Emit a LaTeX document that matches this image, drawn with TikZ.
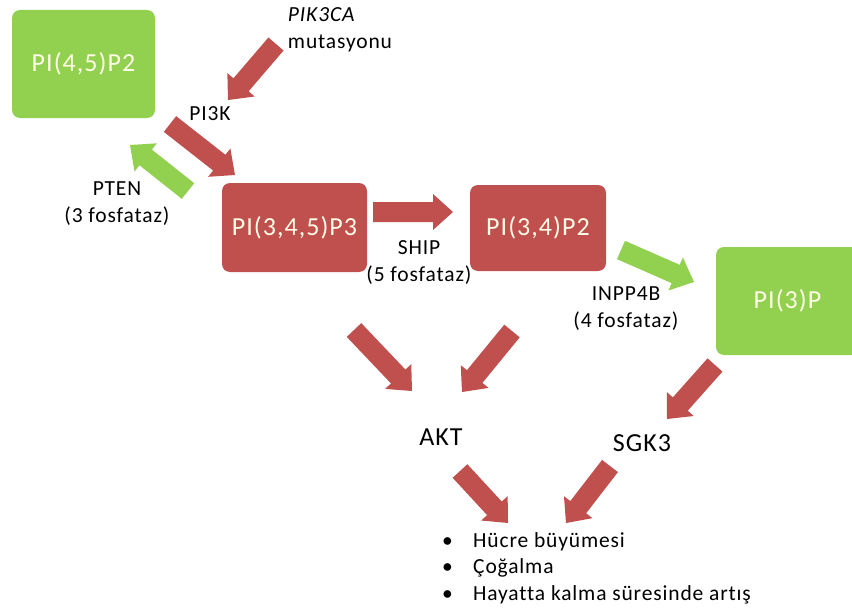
\documentclass[tikz,border=0pt]{standalone}
\usepackage{fontspec}
\setmainfont{Carlito}[LetterSpace=4, Ligatures=NoCommon]
\usetikzlibrary{calc}

\definecolor{pired}{RGB}{192,80,77}
\definecolor{pigreen}{RGB}{146,208,80}
\definecolor{boxtext}{RGB}{255,253,232}

% block arrow: tail, tip, colour
\newcommand{\blockarrow}[3]{%
  \coordinate (head) at ($(#2)!20pt!(#1)$);
  \fill[#3] ($(#1)!10pt!90:(#2)$) -- ($(head)!10pt!90:(#2)$) -- ($(head)!18pt!90:(#2)$)
    -- (#2) -- ($(head)!18pt!-90:(#2)$) -- ($(head)!10pt!-90:(#2)$) -- ($(#1)!10pt!-90:(#2)$) -- cycle;
}

\begin{document}
\begin{tikzpicture}[
    x=1pt, y=-1pt,
    box/.style={rectangle, rounded corners=8pt, text=boxtext, font=\fontsize{26}{30}\selectfont},
    greenbox/.style={box, fill=pigreen, minimum width=143pt, minimum height=108pt},
    redbox/.style={box, fill=pired},
    lbl/.style={font=\fontsize{21.5}{27}\selectfont, align=center, inner sep=0pt},
    big/.style={font=\fontsize{26}{30}\selectfont, inner sep=0pt},
    item/.style={font=\fontsize{21.5}{26}\selectfont, anchor=base west, inner sep=0pt}
]
    \clip (0,0) rectangle (852,610);

    % Boxes
    \node[greenbox] (pip2) at (83.5,64) {PI(4,5)P2};
    \node[redbox, minimum width=145pt, minimum height=89pt] (pip3) at (294.5,227.5) {PI(3,4,5)P3};
    \node[redbox, minimum width=136pt, minimum height=86pt] (pi34p2) at (538,228) {PI(3,4)P2};
    \node[greenbox] (pi3p) at (787.5,301) {PI(3)P};

    % Labels
    \node[lbl, align=left] (pik3ca) at (340,30) {\textit{PIK3CA}\\mutasyonu};
    \node[lbl] (pi3k) at (210,114) {PI3K};
    \node[lbl] (pten) at (117,204) {PTEN\\(3 fosfataz)};
    \node[lbl] (ship) at (419,263) {SHIP\\(5 fosfataz)};
    \node[lbl] (inpp4b) at (626,309) {INPP4B\\(4 fosfataz)};
    \node[big] (akt) at (441,437) {AKT};
    \node[big] (sgk3) at (642,443) {SGK3};

    % Outcomes
    \node[item] (item1) at (442,547) {\makebox[31pt][l]{\textbullet}Hücre büyümesi};
    \node[item] (item2) at (442,573) {\makebox[31pt][l]{\textbullet}Çoğalma};
    \node[item] (item3) at (442,600) {\makebox[31pt][l]{\textbullet}Hayatta kalma süresinde artış};

    % Arrow ends
    \coordinate (mut-t) at (276,44);   \coordinate (mut-h) at (228,100);
    \coordinate (pi3k-t) at (170,124); \coordinate (pi3k-h) at (235,175);
    \coordinate (pten-t) at (188,191); \coordinate (pten-h) at (130,145);
    \coordinate (ship-t) at (373,212); \coordinate (ship-h) at (453,212);
    \coordinate (inpp-t) at (621,250); \coordinate (inpp-h) at (694,282);
    \coordinate (akt1-t) at (354,330); \coordinate (akt1-h) at (412,391);
    \coordinate (akt2-t) at (512,331); \coordinate (akt2-h) at (462,392);
    \coordinate (sgk-t) at (715,365);  \coordinate (sgk-h) at (667,419);
    \coordinate (out1-t) at (460,471); \coordinate (out1-h) at (508,523);
    \coordinate (out2-t) at (610,466); \coordinate (out2-h) at (566,523);

    % Arrows
    \blockarrow{mut-t}{mut-h}{pired}
    \blockarrow{pi3k-t}{pi3k-h}{pired}
    \blockarrow{pten-t}{pten-h}{pigreen}
    \blockarrow{ship-t}{ship-h}{pired}
    \blockarrow{inpp-t}{inpp-h}{pigreen}
    \blockarrow{akt1-t}{akt1-h}{pired}
    \blockarrow{akt2-t}{akt2-h}{pired}
    \blockarrow{sgk-t}{sgk-h}{pired}
    \blockarrow{out1-t}{out1-h}{pired}
    \blockarrow{out2-t}{out2-h}{pired}
\end{tikzpicture}
\end{document}
